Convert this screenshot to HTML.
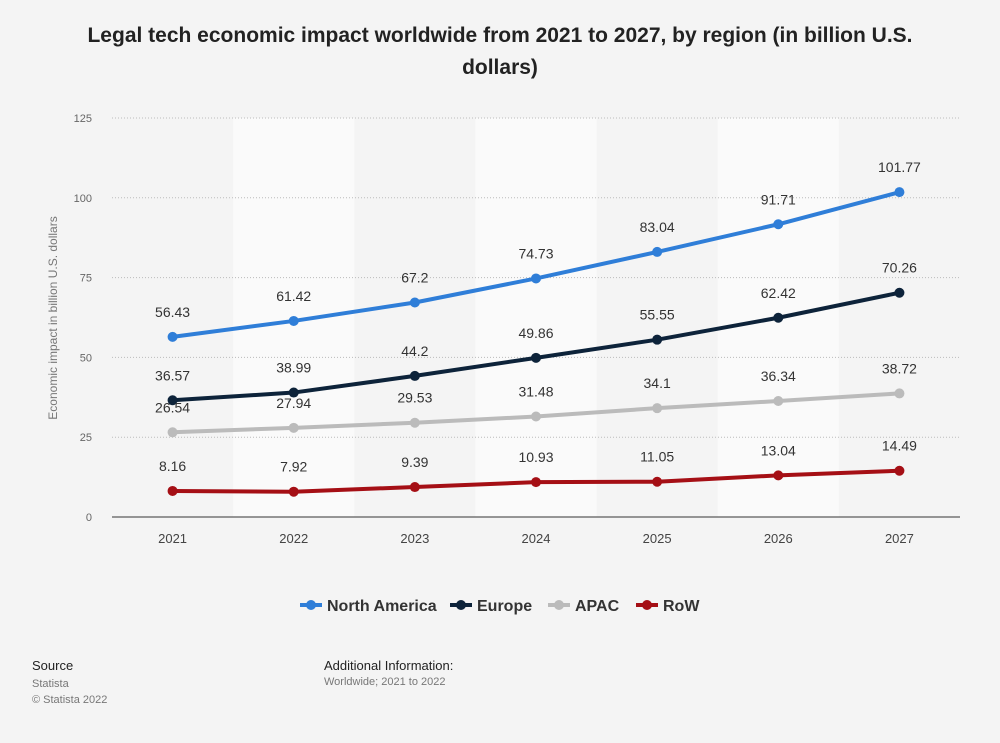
<!DOCTYPE html>
<html><head><meta charset="utf-8"><style>
body{margin:0;background:#f4f4f4;font-family:"Liberation Sans",Arial,sans-serif;}
#wrap{position:relative;width:1000px;height:743px;background:#f4f4f4;}
.t{position:absolute;}
</style></head><body>
<div id="wrap">
<div class="t" style="left:60px;top:20px;width:880px;text-align:center;font-weight:bold;font-size:21px;line-height:32px;color:#222;">Legal tech economic impact worldwide from 2021 to 2027, by region (in billion U.S. dollars)</div>
<svg id="chart" width="1000" height="743" style="position:absolute;left:0;top:0"></svg>
<div class="t" style="left:32px;top:658px;font-size:13px;color:#222;">Source</div>
<div class="t" style="left:32px;top:676px;font-size:11px;color:#777;line-height:16px;">Statista<br>© Statista 2022</div>
<div class="t" style="left:324px;top:658px;font-size:13px;color:#222;">Additional Information:</div>
<div class="t" style="left:324px;top:676px;font-size:11px;color:#777;">Worldwide; 2021 to 2022</div>
</div>
<script>
const categories=["2021","2022","2023","2024","2025","2026","2027"];
const northAmerica=[56.43,61.42,67.2,74.73,83.04,91.71,101.77];
const europe=[36.57,38.99,44.2,49.86,55.55,62.42,70.26];
const apac=[26.54,27.94,29.53,31.48,34.1,36.34,38.72];
const row=[8.16,7.92,9.39,10.93,11.05,13.04,14.49];
const yTicks=[0,25,50,75,100,125];
const seriesNames=["North America","Europe","APAC","RoW"];
const seriesColors=["#2f7ed8","#0d233a","#bbbbbb","#a50f15"];
const NS="http://www.w3.org/2000/svg";
const svg=document.getElementById('chart');
const L=112,R=960,T=118,B=517,yMax=125;
const step=(R-L)/categories.length;
const x=i=>L+step*(i+0.5);
const y=v=>B-(v/yMax)*(B-T);
function mk(tag,attrs,parent){const e=document.createElementNS(NS,tag);for(const k in attrs)e.setAttribute(k,attrs[k]);(parent||svg).appendChild(e);return e;}
categories.forEach((c,i)=>{if(i%2===1){const r=mk('rect',{x:L+step*i,y:T,width:step,height:B-T,fill:'#fafafa'});

}});
yTicks.forEach(v=>{
 if(v>0){const g=mk('line',{x1:L,x2:R,y1:y(v),y2:y(v),stroke:'#bbb','stroke-dasharray':'1,2'});
 
 }
 const t=mk('text',{x:92,y:y(v)+4,'text-anchor':'end','font-size':11,fill:'#666'});t.textContent=v;
 
 
});
const ax=mk('line',{x1:L,x2:R,y1:B,y2:B,stroke:'#333','stroke-width':1});


categories.forEach((c,i)=>{const t=mk('text',{x:x(i),y:543,'text-anchor':'middle','font-size':13,fill:'#444'});t.textContent=c;

});
const yt=mk('text',{x:0,y:0,transform:'translate(57,318) rotate(-90)','text-anchor':'middle','font-size':12,fill:'#777'});yt.textContent='Economic impact in billion U.S. dollars';


const data=[northAmerica,europe,apac,row];
data.forEach((s,si)=>{
 const p=mk('polyline',{points:s.map((v,i)=>x(i)+','+y(v)).join(' '),fill:'none',stroke:seriesColors[si],'stroke-width':4,'stroke-linejoin':'round'});
 
 
 s.forEach((v,i)=>{
  const c=mk('circle',{cx:x(i),cy:y(v),r:5,fill:seriesColors[si]});
  
  
  const t=mk('text',{x:x(i),y:y(v)-20,'text-anchor':'middle','font-size':14,fill:'#333'});t.textContent=v;
  
  
 });
});
const lx=[300,450,548,636];
seriesNames.forEach((n,i)=>{
 const g=mk('g',{});
 
 
 mk('line',{x1:lx[i],x2:lx[i]+22,y1:605,y2:605,stroke:seriesColors[i],'stroke-width':4},g);
 mk('circle',{cx:lx[i]+11,cy:605,r:5,fill:seriesColors[i]},g);
 const t=mk('text',{x:lx[i]+27,y:611,'font-size':16,'font-weight':'bold',fill:'#333'},g);t.textContent=n;
});
</script>
</body></html>
